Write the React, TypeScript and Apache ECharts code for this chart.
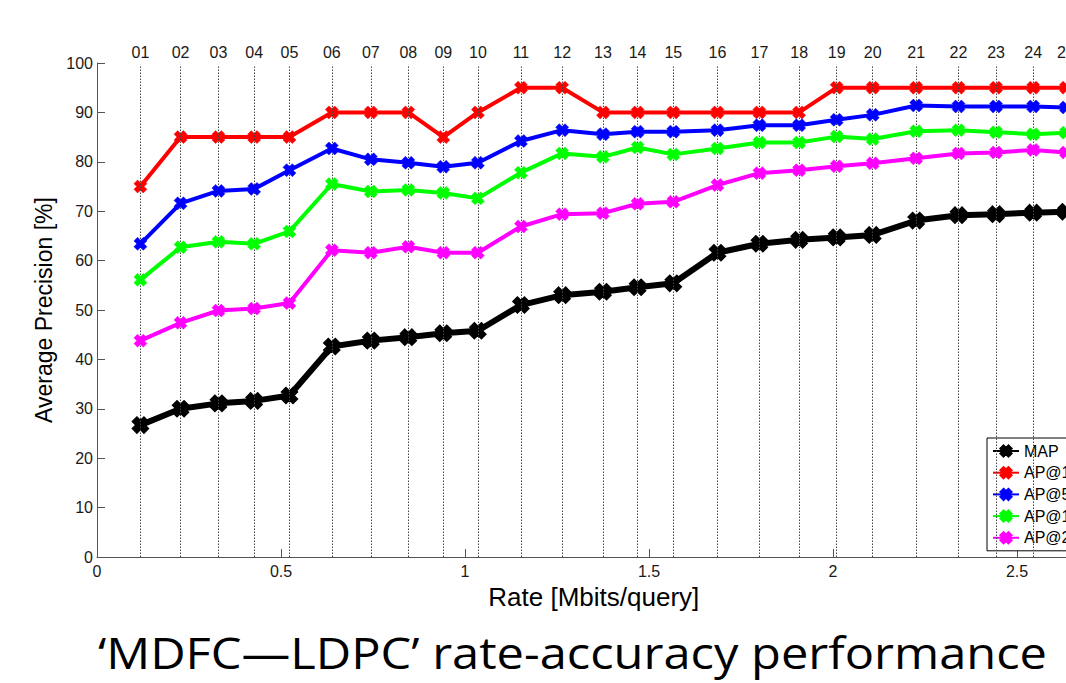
import React, { useEffect, useRef } from "react";
import * as echarts from "echarts";

const pointLabels = ["01","02","03","04","05","06","07","08","09","10","11","12","13","14","15","16","17","18","19","20","21","22","23","24","25"];
const rates = [0.118,0.227,0.330,0.427,0.523,0.638,0.744,0.846,0.941,1.035,1.152,1.264,1.375,1.469,1.566,1.686,1.800,1.908,2.010,2.108,2.226,2.341,2.443,2.544,2.633];
const mapValues = [26.7,30.0,31.1,31.6,32.7,42.6,43.8,44.5,45.3,45.8,51.0,53.0,53.7,54.6,55.4,61.6,63.4,64.2,64.7,65.2,68.1,69.2,69.4,69.7,69.9];
const ap1Values = [75,85,85,85,85,90,90,90,85,90,95,95,90,90,90,90,90,90,95,95,95,95,95,95,95];
const ap5Values = [63.4,71.6,74.1,74.5,78.3,82.7,80.5,79.8,79.0,79.8,84.2,86.4,85.6,86.1,86.1,86.4,87.4,87.4,88.5,89.5,91.4,91.2,91.2,91.2,91.0];
const ap10Values = [56.1,62.7,63.8,63.4,65.9,75.5,74.0,74.3,73.7,72.6,77.8,81.7,81.0,82.9,81.5,82.7,83.9,83.9,85.1,84.6,86.2,86.4,86.0,85.6,85.9];
const ap20Values = [43.8,47.4,49.9,50.3,51.4,62.1,61.6,62.8,61.6,61.6,66.9,69.4,69.6,71.5,71.9,75.3,77.7,78.3,79.1,79.7,80.7,81.7,81.9,82.4,81.9];
const seriesNames = ["MAP", "AP@1", "AP@5", "AP@10", "AP@20"];
const seriesColors = ["#000000", "#ff0000", "#0000ff", "#00ff00", "#ff00ff"];
const xTicks = { min: 0, max: 2.7, interval: 0.5 };
const yTicks = { min: 0, max: 100, interval: 10 };
const slideTitle = "\u2018MDFC\u2014LDPC\u2019 rate-accuracy performance";

const X_SYMBOL =
  "path://M2.8,0 L5,2.2 L7.2,0 L10,2.8 L7.8,5 L10,7.2 L7.2,10 L5,7.8 L2.8,10 L0,7.2 L2.2,5 L0,2.8 Z";

export default function App() {
  const ref = useRef<HTMLDivElement>(null);
  useEffect(() => {
    if (!ref.current) return;
    const chart = echarts.init(ref.current, undefined, { renderer: "svg" });
    const font = "'Liberation Sans', Arial, sans-serif";
    const allValues = [mapValues, ap1Values, ap5Values, ap10Values, ap20Values];
    const dataSeries = seriesNames.map((name, i) => ({
      name,
      type: "line",
      z: 3 + i,
      data: rates.map((r, j) => [r, allValues[i][j]]),
      symbol: X_SYMBOL,
      symbolSize: i === 0 ? 16 : 13,
      showSymbol: true,
      lineStyle: { color: seriesColors[i], width: i === 0 ? 6 : 4 },
      itemStyle: { color: seriesColors[i], borderWidth: i === 0 ? 1.5 : 0.5, borderColor: seriesColors[i] },
      emphasis: { disabled: true },
    }));
    const guideSeries = {
      name: "guides",
      type: "line",
      data: [],
      z: 1,
      silent: true,
      markLine: {
        silent: true,
        symbol: ["none", "none"],
        animation: false,
        lineStyle: { type: [1.5, 1.5], color: "#444444", width: 1 },
        label: {
          show: true,
          position: "end",
          distance: 4,
          fontSize: 16,
          fontFamily: font,
          color: "#1a1a1a",
          formatter: (p: any) => p.name,
        },
        emphasis: { disabled: true },
        data: rates.map((r, j) => [
          { name: pointLabels[j], coord: [r, 0] },
          { name: pointLabels[j], coord: [r, 99.6] },
        ]),
      },
    };
    chart.setOption({
      animation: false,
      backgroundColor: "#ffffff",
      graphic: [
        {
          type: "text",
          x: 98,
          y: 652,
          scaleX: 1.135,
          silent: true,
          style: {
            text: slideTitle,
            fontFamily: "'Open Sans', Lato, sans-serif",
            fontSize: 43,
            fill: "#000000",
            textAlign: "left",
            textVerticalAlign: "middle",
          },
        },
      ],
      legend: {
        data: seriesNames,
        orient: "vertical",
        left: 987,
        top: 438,
        backgroundColor: "#ffffff",
        borderColor: "#000000",
        borderWidth: 1,
        borderRadius: 0,
        padding: [5, 6, 5, 5],
        itemWidth: 26,
        itemHeight: 14,
        itemGap: 5.7,
        textStyle: { fontSize: 16, fontFamily: font, color: "#000000" },
      },
      grid: { left: 97, top: 63, right: 1200 - 97 - 2.7 * 368, bottom: 683 - 557 },
      xAxis: {
        type: "value",
        min: xTicks.min,
        max: xTicks.max,
        interval: xTicks.interval,
        name: "Rate [Mbits/query]",
        nameLocation: "middle",
        nameGap: 21,
        nameTextStyle: { fontSize: 26, fontFamily: font, color: "#000000" },
        axisLine: { show: true, lineStyle: { color: "#555555", width: 1 } },
        axisTick: { show: true, inside: true, length: 8, lineStyle: { color: "#555555" } },
        axisLabel: {
          fontSize: 16,
          fontFamily: font,
          color: "#1a1a1a",
          margin: 6,
          formatter: (v: number) => (Math.abs(v - 2.7) < 1e-6 ? "" : String(v)),
        },
        splitLine: { show: false },
      },
      yAxis: {
        type: "value",
        min: yTicks.min,
        max: yTicks.max,
        interval: yTicks.interval,
        name: "Average Precision [%]",
        nameLocation: "middle",
        nameGap: 33,
        nameTextStyle: { fontSize: 23, fontFamily: font, color: "#000000" },
        axisLine: { show: true, lineStyle: { color: "#555555", width: 1 } },
        axisTick: { show: true, inside: true, length: 8, lineStyle: { color: "#555555" } },
        axisLabel: { fontSize: 16, fontFamily: font, color: "#1a1a1a", margin: 4 },
        splitLine: { show: false },
      },
      series: [guideSeries, ...dataSeries],
    });
    return () => chart.dispose();
  }, []);
  return (
    <div style={{ position: "fixed", left: 0, top: 0, width: 1066, height: 683, overflow: "hidden", background: "#fff" }}>
      <div ref={ref} style={{ width: 1200, height: 683 }} />
    </div>
  );
}
